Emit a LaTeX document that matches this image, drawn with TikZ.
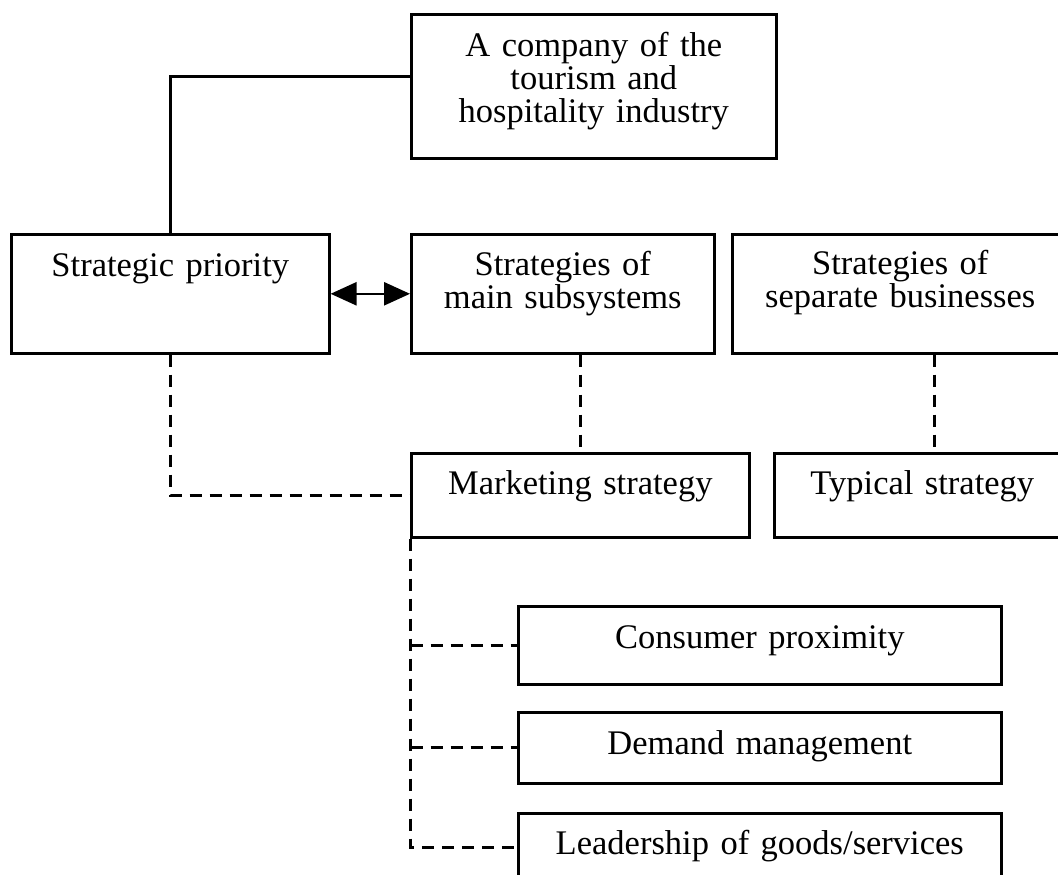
\documentclass[tikz,border=0pt]{standalone}
\usepackage{fontspec}
\setmainfont{Liberation Serif}
\usetikzlibrary{arrows.meta}

\begin{document}
\begin{tikzpicture}[x=1pt, y=-1pt,
    blk/.style = {draw, line width=2.6pt, inner sep=0pt, anchor=north west, align=center,
                  font=\fontsize{34.5}{33}\selectfont},
    dsh/.style = {line width=2.8pt, dash pattern=on 12pt off 8pt}]

                \clip (0,0) rectangle (1058,875);

                \node[blk, text width=365pt, text height=42pt, text depth=102pt] (company) at (410,13) {A company of the\\ tourism and\\ hospitality industry};

                \node[blk, text width=318pt, text height=42pt, text depth=77pt] (prio) at (10,233) {Strategic priority};
                \node[blk, text width=303pt, text height=41pt, text depth=78pt] (mainsub) at (410,233) {Strategies of\\ main subsystems};
                \node[blk, text width=336pt, text height=40pt, text depth=79pt] (sepbus) at (731,233) {Strategies of\\ separate businesses};

                \node[blk, text width=338pt, text height=41pt, text depth=43pt] (market) at (410,452) {Marketing strategy};
                \node[blk, text width=296pt, text height=41pt, text depth=43pt] (typical) at (773,452) {Typical strategy};

                \node[blk, text width=483pt, text height=42pt, text depth=36pt] (consumer) at (517,605) {Consumer proximity};
                \node[blk, text width=483pt, text height=42pt, text depth=29pt] (demand) at (517,711) {Demand management};
                \node[blk, text width=483pt, text height=41pt, text depth=27pt] (leader) at (517,812) {Leadership of goods/services};

                \draw[line width=2.6pt] ([yshift=10pt]company.west) -| (prio.north);
                \draw[line width=2.6pt, {Triangle[length=26pt,width=23pt]}-{Triangle[length=26pt,width=23pt]}] (prio.east) -- (mainsub.west);

                \draw[dsh] (prio.south) |- (market.west);
                \draw[dsh] (market.north |- mainsub.south) -- (market.north);
                \draw[dsh] ([xshift=12pt]typical.north |- sepbus.south) -- ([xshift=12pt]typical.north);

                \draw[dsh] ([xshift=0.5pt]market.south west) |- (leader.west);
                \draw[dsh] ([xshift=0.5pt]market.south west |- consumer.west) -- (consumer.west);
                \draw[dsh] ([xshift=0.5pt]market.south west |- demand.west) -- (demand.west);
            \end{tikzpicture}
\end{document}
